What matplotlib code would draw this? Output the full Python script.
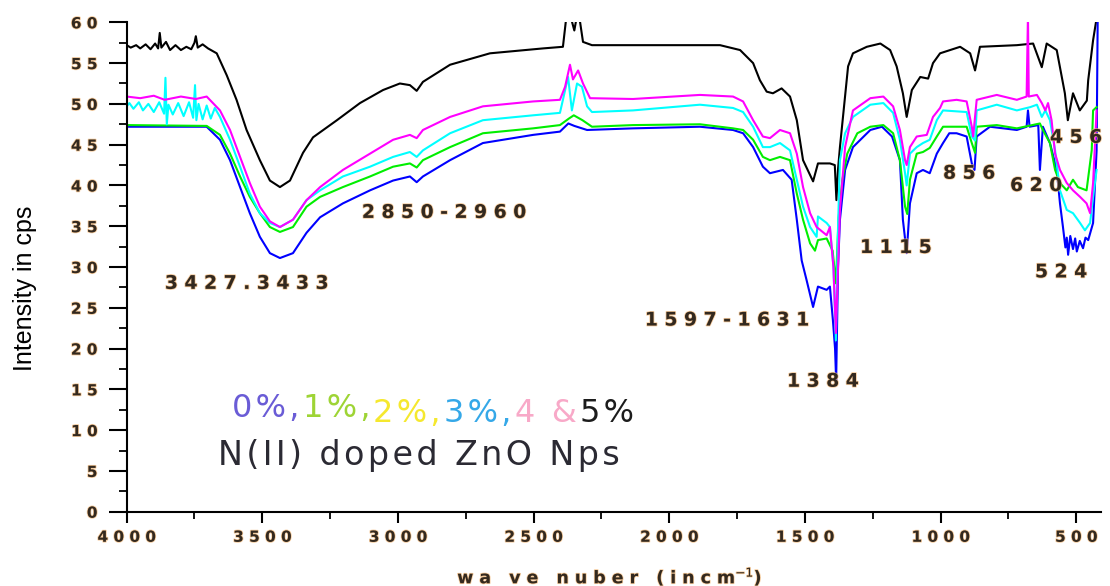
import matplotlib
matplotlib.use('Agg')
import matplotlib.pyplot as plt
import matplotlib.transforms as mtransforms
import matplotlib.patheffects as pe
from matplotlib.ticker import MultipleLocator

# FTIR spectra, (wavenumber, intensity) pairs for each doping level
spec_0 = [(4000, 47.2), (3705, 47.2), (3656, 45.6), (3619, 43.1), (3582, 39.8), (3546, 36.6),
          (3509, 33.7), (3472, 31.7), (3435, 31.1), (3387, 31.7), (3337, 34.2), (3287, 36.1),
          (3203, 37.8), (3103, 39.4), (3018, 40.6), (2956, 41.1), (2931, 40.4), (2908, 41.1),
          (2808, 43.1), (2687, 45.2), (2502, 46.2), (2403, 46.6), (2372, 47.6), (2350, 47.3),
          (2303, 46.8), (2134, 47.0), (1887, 47.2), (1765, 46.8), (1728, 46.4), (1691, 44.7),
          (1655, 42.3), (1629, 41.5), (1581, 41.9), (1549, 40.7), (1530, 35.8), (1512, 30.8),
          (1494, 28.4), (1470, 25.1), (1452, 27.6), (1420, 27.2), (1408, 27.6), (1397, 23.5),
          (1389, 20.0), (1385, 16.0), (1378, 30.0), (1371, 35.8), (1352, 41.9), (1323, 44.7),
          (1259, 46.8), (1216, 47.2), (1179, 46.0), (1150, 43.1), (1139, 35.8), (1125, 31.7),
          (1113, 37.8), (1088, 41.5), (1065, 41.9), (1040, 41.5), (1014, 43.9), (991, 45.2),
          (968, 46.4), (941, 46.4), (904, 46.0), (885, 42.7), (875, 41.9), (867, 46.0),
          (818, 47.2), (719, 46.8), (683, 47.2), (678, 49.2), (672, 47.2), (640, 47.4),
          (634, 41.9), (623, 47.2), (597, 45.2), (572, 41.9), (560, 37.8), (549, 34.9),
          (540, 32.4), (535, 33.6), (530, 31.5), (522, 33.8), (512, 32.2), (504, 33.5),
          (498, 31.9), (487, 33.2), (475, 32.3), (466, 33.6), (456, 33.3), (438, 35.4),
          (425, 44.3), (421, 60.5)]

spec_1 = [(4000, 47.4), (3705, 47.3), (3656, 46.2), (3619, 43.9), (3582, 41.1), (3546, 38.6),
          (3509, 36.6), (3472, 34.9), (3435, 34.3), (3387, 34.9), (3337, 37.4), (3287, 38.6),
          (3203, 39.8), (3103, 41.1), (3018, 42.3), (2956, 42.7), (2931, 42.2), (2908, 43.1),
          (2808, 44.7), (2687, 46.4), (2502, 47.0), (2403, 47.4), (2370, 48.2), (2352, 48.6),
          (2320, 48.0), (2285, 47.2), (2134, 47.4), (1887, 47.5), (1765, 47.0), (1728, 46.8),
          (1691, 45.6), (1655, 43.5), (1629, 43.1), (1592, 43.5), (1555, 43.1), (1530, 39.0),
          (1507, 35.8), (1481, 32.9), (1463, 32.0), (1452, 33.3), (1420, 33.5), (1398, 32.0),
          (1386, 28.0), (1376, 36.0), (1362, 40.7), (1344, 43.9), (1307, 46.4), (1259, 47.2),
          (1211, 47.4), (1175, 46.4), (1150, 43.1), (1131, 37.4), (1123, 36.5), (1113, 40.7),
          (1088, 43.9), (1065, 44.1), (1040, 44.6), (1014, 46.0), (991, 47.2), (904, 47.2),
          (885, 45.2), (873, 44.0), (867, 47.2), (793, 47.4), (719, 47.0), (634, 47.6),
          (623, 46.8), (597, 45.2), (578, 41.9), (560, 40.3), (535, 39.4), (512, 40.7),
          (494, 39.8), (462, 39.4), (443, 44.3), (438, 49.2), (425, 49.6)]

spec_3 = [(4000, 49.7), (3990, 50.1), (3975, 49.4), (3955, 50.2), (3940, 49.2), (3920, 50.0),
          (3900, 49.0), (3880, 50.2), (3862, 48.8), (3857, 53.2), (3852, 47.5), (3846, 49.9),
          (3830, 48.7), (3810, 50.1), (3790, 48.5), (3770, 50.2), (3755, 48.3), (3748, 52.3),
          (3743, 48.0), (3735, 50.0), (3720, 48.1), (3705, 49.8), (3690, 48.2), (3675, 49.5),
          (3656, 48.4), (3619, 45.6), (3582, 42.3), (3546, 39.0), (3509, 36.6), (3472, 35.4),
          (3435, 34.9), (3387, 35.8), (3337, 38.2), (3287, 39.4), (3203, 41.1), (3103, 42.3),
          (3018, 43.5), (2956, 44.1), (2931, 43.5), (2908, 44.3), (2808, 46.4), (2687, 48.0),
          (2502, 48.6), (2403, 48.9), (2392, 50.5), (2373, 53.3), (2359, 49.2), (2340, 52.5),
          (2322, 52.1), (2303, 49.7), (2285, 49.0), (2134, 49.2), (1887, 49.9), (1765, 49.5),
          (1728, 49.0), (1691, 47.2), (1655, 44.7), (1629, 44.7), (1592, 45.2), (1555, 44.3),
          (1530, 40.7), (1507, 37.4), (1481, 34.9), (1457, 33.7), (1452, 36.2), (1420, 35.4),
          (1408, 34.9), (1395, 30.0), (1386, 21.0), (1378, 35.0), (1371, 43.1), (1352, 46.4),
          (1323, 48.4), (1259, 49.9), (1211, 50.1), (1175, 48.9), (1150, 45.6), (1131, 41.5),
          (1125, 40.0), (1113, 43.9), (1088, 44.7), (1065, 45.2), (1040, 45.6), (1014, 48.0),
          (991, 49.2), (904, 49.0), (885, 46.0), (873, 45.5), (867, 49.2), (793, 49.9),
          (719, 49.2), (670, 49.6), (645, 49.9), (627, 48.4), (614, 49.2), (597, 48.0),
          (578, 44.3), (560, 39.4), (535, 37.0), (512, 36.6), (486, 35.4), (468, 34.5),
          (449, 35.4), (438, 38.6), (425, 41.9)]

spec_4 = [(4000, 50.9), (3950, 50.7), (3900, 51.0), (3860, 50.5), (3800, 50.9), (3745, 50.6),
          (3705, 50.9), (3656, 49.2), (3619, 46.8), (3582, 43.5), (3546, 40.3), (3509, 37.4),
          (3472, 35.6), (3435, 34.9), (3387, 35.8), (3337, 38.2), (3287, 39.8), (3203, 41.9),
          (3103, 43.9), (3018, 45.6), (2956, 46.2), (2931, 45.8), (2908, 46.8), (2808, 48.4),
          (2687, 49.7), (2502, 50.3), (2403, 50.5), (2384, 52.1), (2366, 54.8), (2355, 53.0),
          (2336, 54.1), (2318, 52.5), (2292, 50.7), (2134, 50.6), (1887, 51.1), (1765, 50.9),
          (1728, 50.3), (1691, 48.0), (1655, 46.0), (1629, 45.8), (1592, 46.8), (1555, 46.4),
          (1530, 43.9), (1507, 39.8), (1481, 36.6), (1457, 34.9), (1420, 33.9), (1408, 34.9),
          (1395, 30.0), (1386, 21.9), (1378, 30.0), (1371, 37.0), (1352, 44.7), (1323, 49.2),
          (1259, 50.7), (1211, 50.9), (1175, 49.7), (1150, 46.8), (1131, 43.1), (1125, 42.5),
          (1113, 44.7), (1088, 46.0), (1051, 46.2), (1028, 48.4), (1002, 49.5), (991, 50.3),
          (941, 50.5), (904, 50.3), (885, 47.2), (880, 46.0), (867, 50.5), (793, 51.1),
          (719, 50.5), (683, 50.9), (678, 61.0), (675, 50.9), (645, 51.1), (627, 50.1),
          (614, 49.2), (604, 50.1), (591, 48.0), (578, 43.9), (560, 41.9), (535, 40.3),
          (512, 39.4), (486, 38.6), (462, 37.8), (449, 36.6), (438, 40.3), (425, 49.2)]

spec_5 = [(4000, 57.2), (3985, 56.9), (3965, 57.2), (3950, 56.8), (3930, 57.3), (3912, 56.7),
          (3895, 57.4), (3884, 56.8), (3878, 58.7), (3872, 56.9), (3855, 57.6), (3840, 56.6),
          (3820, 57.2), (3800, 56.6), (3780, 57.0), (3762, 56.7), (3750, 57.5), (3745, 58.3),
          (3738, 56.9), (3720, 57.3), (3700, 56.8), (3668, 56.2), (3631, 53.5), (3595, 50.5),
          (3558, 46.8), (3509, 43.1), (3472, 40.6), (3435, 39.8), (3398, 40.6), (3350, 44.0),
          (3313, 45.9), (3225, 48.0), (3140, 50.1), (3055, 51.7), (2993, 52.5), (2956, 52.3),
          (2931, 51.6), (2908, 52.7), (2808, 54.8), (2661, 56.2), (2466, 56.8), (2392, 57.0),
          (2380, 60.5), (2362, 60.5), (2350, 59.0), (2342, 60.5), (2330, 60.3), (2318, 57.6),
          (2285, 57.2), (1813, 57.2), (1739, 56.6), (1691, 55.0), (1666, 52.9), (1641, 51.5),
          (1618, 51.3), (1586, 51.9), (1555, 50.9), (1530, 48.0), (1507, 43.1), (1470, 40.5),
          (1452, 42.7), (1408, 42.7), (1390, 42.5), (1384, 38.2), (1378, 42.0), (1371, 44.7),
          (1341, 54.6), (1323, 56.2), (1272, 57.0), (1222, 57.4), (1186, 56.6), (1162, 54.6),
          (1139, 51.3), (1125, 48.4), (1106, 51.7), (1075, 53.3), (1046, 53.1), (1028, 55.0),
          (1002, 56.2), (928, 57.0), (891, 56.2), (873, 54.1), (855, 57.0), (719, 57.2),
          (659, 57.4), (627, 54.5), (609, 57.4), (572, 56.6), (542, 51.3), (531, 48.0),
          (512, 51.3), (487, 49.2), (461, 50.4), (456, 52.9), (438, 57.8), (425, 60.5)]

# peak labels: text, wavenumber and intensity of the label's left edge
peak_labels = ['3427.3433', '2850-2960', '1597-1631', '1384', '1115', '856', '620', '456', '524']
peak_label_x = [3859, 3133, 2090, 1566, 1297, 991, 744, 597, 652]
peak_label_y = [28.0, 36.7, 23.5, 16.0, 32.4, 41.5, 40.0, 45.9, 29.4]

dopings = ['0%,', '1%,', '2%,', '3%,', '4 &', '5%']
doping_colors = ['#6a5cd6', '#9ed435', '#f5e82e', '#35a8e8', '#f8a9c8', '#1c1c1c']

xticks = [4000, 3500, 3000, 2500, 2000, 1500, 1000, 500]
yticks = [0, 5, 10, 15, 20, 25, 30, 35, 40, 45, 50, 55, 60]

HAIR = '\u200a'


def spaced(s, gap=' '):
    return gap.join(s)


label_color = '#33291f'
halo = [pe.withStroke(linewidth=1.2, foreground='#f2b878', alpha=0.7)]

fig = plt.figure(figsize=(11.1, 5.86), dpi=100)
ax = fig.add_axes([0.1141, 0.1268, 0.8775, 0.8351])

for spec, color in [(spec_5, 'black'), (spec_0, '#0000ff'), (spec_1, '#00ee00'),
                    (spec_3, '#00ffff'), (spec_4, '#ff00ff')]:
    wn, val = zip(*spec)
    ax.plot(wn, val, color=color, lw=1.5)

ax.set_xlim(4000, 410)
ax.set_ylim(0, 60)

for side in ['top', 'right']:
    ax.spines[side].set_visible(False)
for side in ['left', 'bottom']:
    ax.spines[side].set_linewidth(1.5)

ax.set_xticks(xticks, labels=[spaced(str(t)) for t in xticks])
ax.set_yticks(yticks, labels=[spaced(str(t)) for t in yticks])
ax.xaxis.set_minor_locator(MultipleLocator(250))
ax.yaxis.set_minor_locator(MultipleLocator(2.5))
ax.tick_params(axis='y', which='major', direction='out', length=13, width=1.5, pad=8)
ax.tick_params(axis='y', which='minor', direction='out', length=6, width=1.3)
ax.tick_params(axis='x', which='major', direction='out', length=8, width=1.5, pad=5)
ax.tick_params(axis='x', which='minor', direction='out', length=5, width=1.3)
for lab in ax.get_xticklabels() + ax.get_yticklabels():
    lab.set_fontsize(11)
    lab.set_fontweight('bold')
    lab.set_color(label_color)
    lab.set_path_effects(halo)

ax.set_ylabel('Intensity in cps', fontsize=18,
              family=['Liberation Sans Narrow', 'Liberation Sans', 'DejaVu Sans'])
ax.yaxis.set_label_coords(-0.1044, 0.457)
ax.yaxis.label.set_va('center')

xlab = '   '.join(spaced(w) for w in ['wa', 've', 'nuber', '(incm']) + '$^{-1}$)'
ax.set_xlabel(xlab, fontsize=12.5, fontweight='bold', color=label_color, path_effects=halo)
ax.xaxis.set_label_coords(0.496, -0.132)
ax.xaxis.label.set_va('center')

for txt, x, y in zip(peak_labels, peak_label_x, peak_label_y):
    ax.text(x, y, spaced(txt), fontsize=13.5, fontweight='bold', color=label_color,
            ha='left', va='center', path_effects=halo)

# colored doping list, second half sits a little lower
renderer = fig.canvas.get_renderer()
dx = 0.0
for i, (s, c) in enumerate(zip(dopings, doping_colors)):
    drop = 0 if i < 2 else 5
    tr = mtransforms.offset_copy(ax.transData, x=dx, y=-drop, units='dots')
    t = ax.text(3612, 11.6, spaced(s, HAIR) + HAIR, color=c, fontsize=23, transform=tr,
                ha='left', va='baseline', family=['DejaVu Sans'])
    dx += t.get_window_extent(renderer).width

ax.text(3663, 5.7, spaced('N(II) doped ZnO Nps', HAIR), fontsize=24, color='#2b2a33',
        ha='left', va='baseline', family=['DejaVu Sans'])

fig.savefig('out.png', dpi=100)
